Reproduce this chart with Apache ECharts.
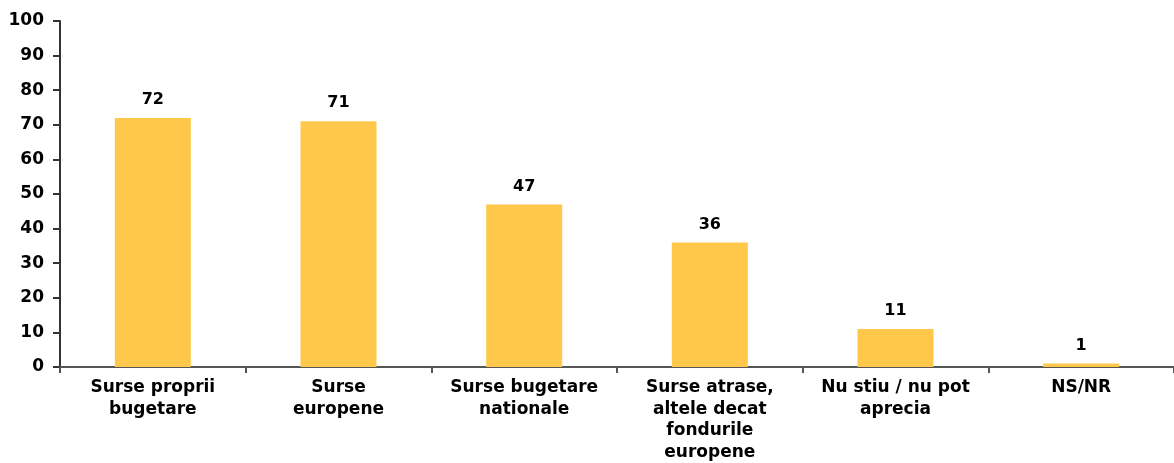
<!DOCTYPE html>
<html>
<head>
<meta charset="utf-8">
<script src="https://cdn.jsdelivr.net/npm/echarts@6/dist/echarts.min.js"></script>
<style>
html, body { margin: 0; padding: 0; background: #fff; }
#chart { width: 1174px; height: 463px; }
</style>
</head>
<body>
<div id="chart"></div>
<script>
// categorii si valori (%)
const categories = [
  "Surse proprii\nbugetare",
  "Surse\neuropene",
  "Surse bugetare\nnationale",
  "Surse atrase,\naltele decat\nfondurile\neuropene",
  "Nu stiu / nu pot\naprecia",
  "NS/NR"
];
const values = [72, 71, 47, 36, 11, 1];

let myChart = echarts.init(document.getElementById("chart"));
let option = {
  animation: false,
  grid: { left: 60, top: 21, width: 1124, height: 348 },
  xAxis: {
    type: "category",
    data: categories,
    axisLine: { lineStyle: { color: "#555", width: 2 } },
    axisTick: { show: true, length: 6, lineStyle: { color: "#555", width: 2 } },
    axisLabel: {
      interval: 0,
      margin: 10,
      color: "#000",
      fontFamily: "DejaVu Sans",
      fontWeight: "bold",
      fontSize: 17,
      lineHeight: 21.5
    }
  },
  yAxis: {
    type: "value",
    min: 0,
    max: 100,
    interval: 10,
    splitLine: { show: false },
    axisLine: { show: true, lineStyle: { color: "#333", width: 2 } },
    axisTick: { show: true, length: 7, lineStyle: { color: "#333", width: 2 } },
    axisLabel: {
      margin: 16,
      color: "#000",
      fontFamily: "DejaVu Sans",
      fontWeight: "bold",
      fontSize: 17
    }
  },
  series: [
    {
      type: "bar",
      data: values,
      barWidth: 76,
      itemStyle: { color: "#FFC84B" },
      label: {
        show: true,
        position: "top",
        distance: 10,
        color: "#000",
        fontFamily: "DejaVu Sans",
        fontWeight: "bold",
        fontSize: 16
      }
    }
  ]
};
option && myChart.setOption(option);
</script>
</body>
</html>
